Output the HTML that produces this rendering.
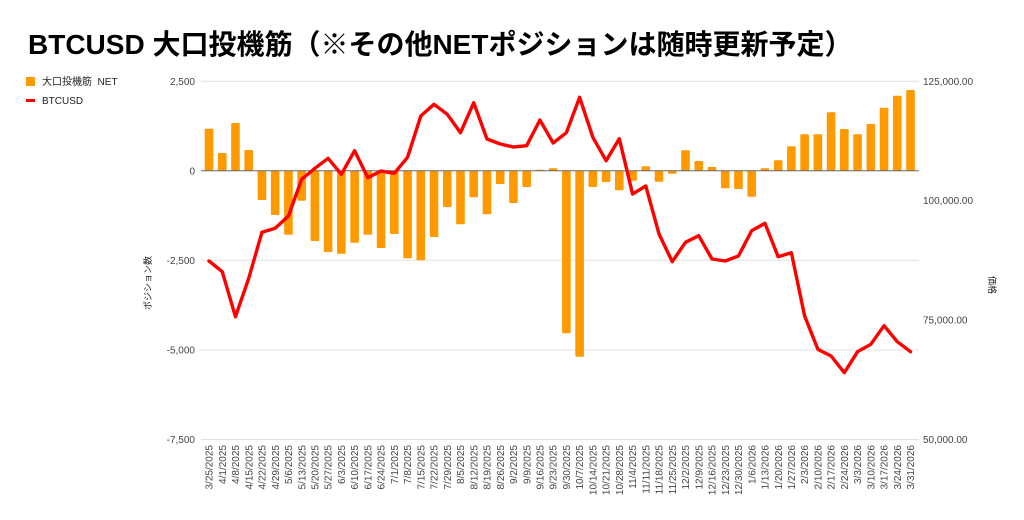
<!DOCTYPE html>
<html>
<head>
<meta charset="utf-8">
<style>
html,body{margin:0;padding:0;background:#fff;}
body{width:1024px;height:520px;overflow:hidden;}
svg{display:block;}
text{font-family:"Liberation Sans","Noto Sans CJK JP",sans-serif;}
</style>
</head>
<body>
<svg id="c" width="1024" height="520" viewBox="0 0 1024 520" xmlns="http://www.w3.org/2000/svg">
<rect width="1024" height="520" fill="#fff"/>
<text x="28" y="54" font-size="28" font-weight="bold" fill="#000">BTCUSD 大口投機筋（※その他NETポジションは随時更新予定）</text>

<!-- legend -->
<rect x="26" y="77" width="9" height="9" fill="#ff9900"/>
<text x="42" y="85" font-size="10" fill="#222" xml:space="preserve">大口投機筋  NET</text>
<rect x="26" y="99" width="9" height="3" fill="#ff0000"/>
<text x="42" y="104" font-size="10" fill="#222">BTCUSD</text>

<!-- gridlines -->
<g stroke="#e0e0e0" stroke-width="1">
<line x1="201" y1="81.3" x2="919" y2="81.3"/>
<line x1="201" y1="260.3" x2="919" y2="260.3"/>
<line x1="201" y1="350" x2="919" y2="350"/>
<line x1="201" y1="439.5" x2="919" y2="439.5"/>
</g>

<!-- left axis labels -->
<g font-size="10" fill="#444" text-anchor="end">
<text x="195" y="85">2,500</text>
<text x="195" y="174.5">0</text>
<text x="195" y="264">-2,500</text>
<text x="195" y="353.5">-5,000</text>
<text x="195" y="443">-7,500</text>
</g>
<!-- right axis labels -->
<g font-size="10" fill="#444" text-anchor="start">
<text x="923" y="85">125,000.00</text>
<text x="923" y="204">100,000.00</text>
<text x="923" y="323.5">75,000.00</text>
<text x="923" y="443">50,000.00</text>
</g>
<text transform="translate(151,283) rotate(-90)" font-size="9" fill="#222" text-anchor="middle">ポジション数</text>
<text transform="translate(989,285) rotate(90)" font-size="9" fill="#222" text-anchor="middle">価格</text>

<g id="bars" fill="#ff9900"></g>
<line x1="201" y1="170.7" x2="919" y2="170.7" stroke="#666" stroke-width="1"/>
<polyline id="ln" fill="none" stroke="#ff0000" stroke-width="3.4" stroke-linejoin="round" stroke-linecap="round" points=""/>
<g id="xl" font-size="10" fill="#444" text-anchor="end"></g>
</svg>
<script>
(function(){
var ns="http://www.w3.org/2000/svg";
var Z=170.7;
var h=[42,17.7,47.7,20.7,-29.3,-44.3,-64,-30,-70.3,-81.3,-83,-72,-64,-77.3,-63.3,-87.6,-89.6,-66.3,-36.3,-53.6,-26.6,-43.6,-13.3,-32.3,-16.3,1,2.4,-162.6,-186,-16.3,-11.3,-19.6,-10,4.4,-11,-3,20.4,9.7,3.7,-17.6,-18.3,-26,2.4,10.4,24.4,36.4,36.4,58.4,41.7,36.4,46.7,63,75,80.7];
var ly=[261,271.7,316.7,278.3,232.3,228.3,216,179.3,168.3,158.3,174.3,150.7,177.7,171,173.3,157.3,116,104.3,114.3,132.7,102.7,139,144,147,145.7,120,143,132.7,97.3,137.3,160.7,138.7,194,186,234,261.7,242.3,235.7,259,261,256,230.7,223.3,256.7,252.7,316,349.3,356,372.7,351.7,344.3,325.7,341.7,351.7];
var d=["3/25/2025","4/1/2025","4/8/2025","4/15/2025","4/22/2025","4/29/2025","5/6/2025","5/13/2025","5/20/2025","5/27/2025","6/3/2025","6/10/2025","6/17/2025","6/24/2025","7/1/2025","7/8/2025","7/15/2025","7/22/2025","7/29/2025","8/5/2025","8/12/2025","8/19/2025","8/26/2025","9/2/2025","9/9/2025","9/16/2025","9/23/2025","9/30/2025","10/7/2025","10/14/2025","10/21/2025","10/28/2025","11/4/2025","11/11/2025","11/18/2025","11/25/2025","12/2/2025","12/9/2025","12/16/2025","12/23/2025","12/30/2025","1/6/2026","1/13/2026","1/20/2026","1/27/2026","2/3/2026","2/10/2026","2/17/2026","2/24/2026","3/3/2026","3/10/2026","3/17/2026","3/24/2026","3/31/2026"];
var bars=document.getElementById("bars"),xl=document.getElementById("xl"),pts=[];
for(var i=0;i<54;i++){
 var cx=209+i*13.236;
 var r=document.createElementNS(ns,"rect");
 var v=h[i];
 r.setAttribute("x",(cx-4.3).toFixed(2));
 r.setAttribute("width","8.6");
 if(v>=0){r.setAttribute("y",(Z-v).toFixed(2));r.setAttribute("height",v.toFixed(2));}
 else{r.setAttribute("y",Z.toFixed(2));r.setAttribute("height",(-v).toFixed(2));}
 r.setAttribute("rx","1");
 bars.appendChild(r);
 pts.push(cx.toFixed(2)+","+ly[i]);
 var t=document.createElementNS(ns,"text");
 t.setAttribute("transform","translate("+(cx+3.6).toFixed(2)+",445) rotate(-90)");
 t.textContent=d[i];
 xl.appendChild(t);
}
document.getElementById("ln").setAttribute("points",pts.join(" "));
})();
</script>
</body>
</html>
